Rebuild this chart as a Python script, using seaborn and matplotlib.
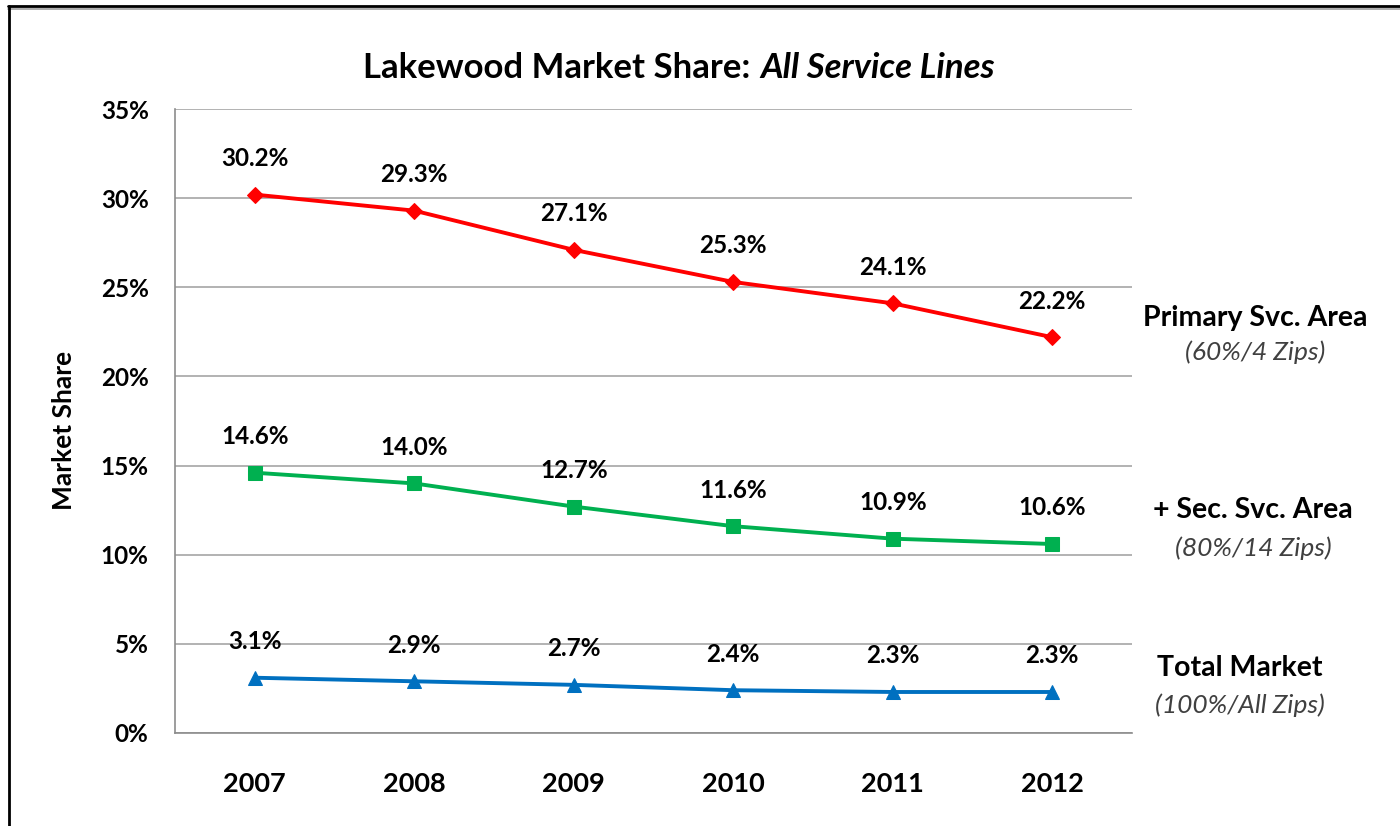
import matplotlib
matplotlib.use("Agg")
import matplotlib.pyplot as plt
from matplotlib.lines import Line2D
import seaborn as sns
import pandas as pd

years = ["2007", "2008", "2009", "2010", "2011", "2012"]
primary = [30.2, 29.3, 27.1, 25.3, 24.1, 22.2]
secondary = [14.6, 14.0, 12.7, 11.6, 10.9, 10.6]
total = [3.1, 2.9, 2.7, 2.4, 2.3, 2.3]
series_names = ["Primary Svc. Area", "+ Sec. Svc. Area", "Total Market"]
series_notes = ["(60%/4 Zips)", "(80%/14 Zips)", "(100%/All Zips)"]
y_ticks = [0, 5, 10, 15, 20, 25, 30, 35]

sns.set_theme(style="white")
plt.rcParams["font.family"] = ["Lato", "DejaVu Sans"]
plt.rcParams["text.color"] = "black"
plt.rcParams["xtick.color"] = "black"
plt.rcParams["ytick.color"] = "black"

fig = plt.figure(figsize=(14, 8.26), dpi=100)
ax = fig.add_axes([0.125, 0.1126, 0.6836, 0.7554])

colors = ["#FF0000", "#00B050", "#0070C0"]
markers = ["D", "s", "^"]
msizes = [8, 10, 10]
pos = list(range(len(years)))

for vals, c, m, ms in zip([primary, secondary, total], colors, markers, msizes):
    df = pd.DataFrame({"x": pos, "y": vals})
    sns.lineplot(data=df, x="x", y="y", ax=ax, color=c, marker=m, markersize=ms,
                 markeredgecolor=c, linewidth=2.8)
    for xi, yi in zip(pos, vals):
        ax.annotate(f"{yi:.1f}%", (xi, yi), xytext=(0, 26), textcoords="offset points",
                    ha="center", va="center", fontsize=17.5, fontweight="bold", color="black")

ax.set_xlim(-0.5, len(years) - 0.5)
ax.set_ylim(0, 35)
ax.set_yticks(y_ticks)
ax.set_yticklabels([f"{t}%" for t in y_ticks], fontsize=17.5, fontweight="bold", color="black")
ax.set_xticks(pos)
ax.set_xticklabels(years, fontsize=19.5, fontweight="bold", color="black")
ax.set_xticks([p - 0.5 for p in pos] + [len(years) - 0.5], minor=True)
ax.tick_params(axis="x", which="major", length=0, pad=28)
ax.tick_params(axis="x", which="minor", length=10, color="#8C8C8C", width=1, direction="out")
ax.tick_params(axis="y", which="major", length=9, color="#8C8C8C", width=1, direction="out", pad=10)
ax.set_xlabel("")
ax.set_ylabel("")
ax.yaxis.grid(True, color="#A6A6A6", linewidth=1.2)
ax.xaxis.grid(False)
for s in ["top", "right"]:
    ax.spines[s].set_visible(False)
for s in ["left", "bottom"]:
    ax.spines[s].set_color("#8C8C8C")
    ax.spines[s].set_linewidth(1.2)

fig.text(0.046, 1 - 430 / 826, "Market Share", rotation=90, ha="center", va="center",
         fontsize=19, fontweight="bold", color="black")

fig.text(750 / 1400, 1 - 68 / 826, "Lakewood Market Share:", ha="right", va="center",
         fontsize=25, fontweight="bold", color="black")
fig.text(760 / 1400, 1 - 68 / 826, "All Service Lines", ha="left", va="center",
         fontsize=25, fontweight="bold", style="italic", color="black")

name_x = [1255, 1253, 1240]
name_y = [318, 510, 668]
note_y = [352, 548, 705]
for nm, nt, nx, ny, ty in zip(series_names, series_notes, name_x, name_y, note_y):
    fig.text(nx / 1400, 1 - ny / 826, nm, ha="center", va="center", fontsize=20.5,
             fontweight="bold", color="black")
    fig.text(nx / 1400, 1 - ty / 826, nt, ha="center", va="center", fontsize=19,
             style="italic", color="#404040")

# outer frame
fig.add_artist(Line2D([8 / 1400, 1.01], [1 - 6 / 826, 1 - 6 / 826], color="black", linewidth=2,
                      transform=fig.transFigure))
fig.add_artist(Line2D([8 / 1400, 1.01], [1 - 9 / 826, 1 - 9 / 826], color="#A0A0A0", linewidth=1.2,
                      transform=fig.transFigure))
fig.add_artist(Line2D([9 / 1400, 9 / 1400], [1 - 6 / 826, -0.01], color="black", linewidth=2,
                      transform=fig.transFigure))

fig.savefig("out.png", dpi=100)
